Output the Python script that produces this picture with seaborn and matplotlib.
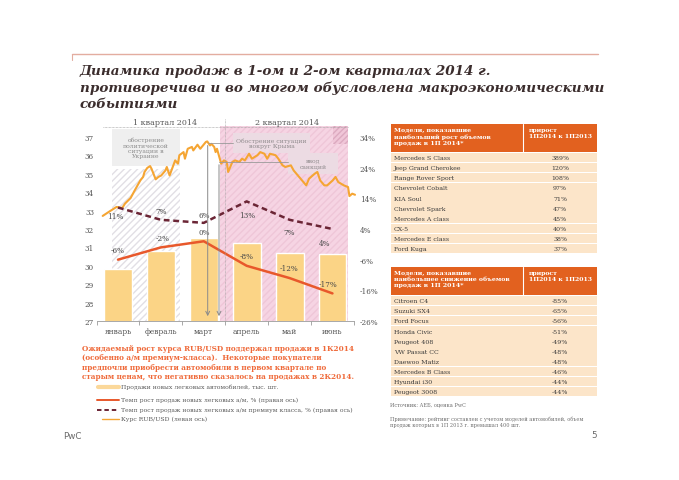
import numpy as np
import pandas as pd
import seaborn as sns
import matplotlib.pyplot as plt
from matplotlib.patches import Rectangle
from matplotlib.lines import Line2D

# ---- data ----
months = ['январь', 'февраль', 'март', 'апрель', 'май', 'июнь']
sales = [29.83, 30.82, 31.51, 31.22, 30.68, 30.64]          # bars (left scale)
total_growth = [-6, -2, 0, -8, -12, -17]                    # % right axis
premium_growth = [11, 7, 6, 13, 7, 4]                       # % right axis

rate_day = [0, 5, 10, 14, 16, 20, 23, 27, 29, 30, 32, 34, 35, 38, 40, 42, 45, 46,
            48, 52, 54, 55, 58, 59, 61, 64, 65, 68, 70, 74, 75, 77, 78, 80, 81, 82,
            84, 85, 87, 89, 90, 93, 95, 98, 100, 102, 105, 107, 111, 113, 116, 118,
            120, 124, 126, 129, 131, 135, 137, 140, 142, 146, 148, 152, 154, 156,
            159, 161, 165, 167, 169, 173, 176, 177, 179, 181]
rub_usd = [32.71, 32.96, 33.20, 33.14, 33.38, 33.68, 34.10, 34.64, 34.83, 35.10,
           35.32, 35.42, 35.28, 34.70, 34.83, 34.91, 35.18, 35.37, 34.91, 35.73,
           35.55, 36.01, 36.18, 35.82, 36.36, 36.46, 36.27, 36.58, 36.36, 36.73,
           36.76, 36.54, 36.63, 36.46, 36.18, 36.36, 35.82, 35.55, 35.73, 35.64,
           35.10, 35.64, 35.73, 35.64, 35.82, 35.73, 36.09, 35.82, 36.01, 36.18,
           36.09, 35.82, 36.09, 36.01, 35.82, 35.46, 35.37, 35.46, 35.18, 34.91,
           34.73, 34.37, 34.73, 35.00, 35.10, 34.64, 34.37, 34.37, 34.64, 34.83,
           34.55, 34.37, 34.28, 33.79, 33.92, 33.86]

left_ticks = [27, 28, 29, 30, 31, 32, 33, 34, 35, 36, 37]
right_ticks = [-26, -16, -6, 4, 14, 24, 34]

growth_models = ['Mercedes S Class', 'Jeep Grand Cherokee', 'Range Rover Sport',
                 'Chevrolet Cobalt', 'KIA Soul', 'Chevrolet Spark', 'Mercedes A class',
                 'CX-5', 'Mercedes E class', 'Ford Kuga']
growth_values = [389, 120, 108, 97, 71, 47, 45, 40, 38, 37]
decline_models = ['Citroen C4', 'Suzuki SX4', 'Ford Focus', 'Honda Civic', 'Peugeot 408',
                  'VW Passat CC', 'Daewoo Matiz', 'Mercedes B Class', 'Hyundai i30',
                  'Peugeot 3008']
decline_values = [-85, -65, -56, -51, -49, -48, -48, -46, -44, -44]

# label offsets (points) for the percentage annotations
total_offsets = [(0, 7), (1, 7), (0, 7), (0, 7), (0, 7), (-3, 7)]
premium_offsets = [(-2, -6), (0, 6.5), (0, 6), (0, -9.5), (0, -9), (-6, -10)]

BAR = '#fbd486'
RATE = '#f5a533'
RED = '#e8582b'
MAROON = '#6b2535'
GREY_TXT = '#555555'

sns.set_style('white')
plt.rcParams['font.family'] = ['DejaVu Serif']

W, H = 679, 481
fig = plt.figure(figsize=(6.79, 4.81), dpi=100)
fig.patch.set_facecolor('white')


def fx(x):
    return x / W


def fy(y):
    return 1 - y / H


def frect(target, x0, y0, x1, y1, **kw):
    r = Rectangle((fx(x0), fy(y1)), (x1 - x0) / W, (y1 - y0) / H,
                  transform=fig.transFigure, **kw)
    target.add_artist(r) if target is fig else target.add_patch(r)
    return r


def fline(xs, ys, **kw):
    fig.add_artist(Line2D([fx(x) for x in xs], [fy(y) for y in ys],
                          transform=fig.transFigure, **kw))


# ---- title ----
fline([72, 598], [55, 55], color='#e3ada0', lw=1)
fline([72, 72], [55, 61], color='#e3ada0', lw=0.8)
title_lines = ['Динамика продаж в 1-ом и 2-ом кварталах 2014 г.',
               'противоречива и во многом обусловлена макроэкономическими',
               'событиями']
for i, t in enumerate(title_lines):
    fig.text(fx(80), fy(71 + i * 16.8), t, fontsize=9.7, fontweight='bold',
             fontstyle='italic', color='#3b2d2d', va='center')

# ---- main chart ----
ax = fig.add_axes([fx(96.55), fy(322), (353.9 - 96.55) / W, (322 - 119.6) / H])
ax.patch.set_visible(False)

# background zones
frect(ax, 220, 127, 348, 322, facecolor='#f6d4e3', edgecolor='#efc6d8',
      hatch='/////', lw=0, zorder=0.1)
frect(ax, 333, 127, 348, 145, facecolor='#f0c6d8', edgecolor='#dcaac0',
      hatch='//////', lw=0, zorder=0.15)
frect(ax, 112, 170, 180, 322, facecolor='white', edgecolor='#e2dfe5',
      hatch='/////', lw=0, zorder=0.1)
frect(ax, 112, 130, 180, 167, facecolor='#efefef', edgecolor='none', zorder=0.1)
frect(ax, 233, 134, 310, 154, facecolor='#ecdbe3', edgecolor='none', zorder=0.2)
frect(ax, 288, 154, 338, 175, facecolor='#ecdbe3', edgecolor='none', zorder=0.2)

sns.barplot(x=months, y=sales, color=BAR, saturation=1, width=0.65, ax=ax, zorder=1)
ax.set_ylim(27, 38)
ax.set_xlim(-0.5, 5.5)
ax.set_xlabel('')
ax.set_ylabel('')
ax.set_yticks(left_ticks)
ax.set_yticklabels([str(v) for v in left_ticks])
ax.set_xticks(range(len(months)))
ax.set_xticklabels(months)
ax.set_xticks(np.arange(-0.5, len(months)), minor=True)
ax.tick_params(axis='y', length=0, pad=1.8, labelsize=5.2, labelcolor=GREY_TXT)
ax.tick_params(axis='x', which='major', length=0, pad=4, labelsize=5.4,
               labelcolor=GREY_TXT)
ax.tick_params(axis='x', which='minor', length=3, width=0.6, color='#9a9a9a',
               direction='out', bottom=True)
for s in ['left', 'right', 'top']:
    ax.spines[s].set_visible(False)
ax.spines['bottom'].set_color('#9a9a9a')
ax.spines['bottom'].set_linewidth(0.6)

# RUB/USD daily line on its own date scale
ax_rate = fig.add_axes(ax.get_position())
ax_rate.patch.set_visible(False)
sns.lineplot(x=rate_day, y=rub_usd, ax=ax_rate, color=RATE, lw=1.5, clip_on=False)
ax_rate.set_xlim(-4.4, 180.2)
ax_rate.set_ylim(27, 38)
ax_rate.axis('off')

# growth lines on right axis
ax_r = ax.twinx()
xs = np.arange(len(months))
sns.lineplot(x=xs, y=total_growth, ax=ax_r, color=RED, lw=1.8)
sns.lineplot(x=xs, y=premium_growth, ax=ax_r, color=MAROON, lw=1.8,
             linestyle=(0, (2.3, 1.5)))
ax_r.set_ylim(-26, 40)
ax_r.set_yticks(right_ticks)
ax_r.set_yticklabels([f'{v}%' for v in right_ticks])
ax_r.tick_params(axis='y', length=0, pad=4.3, labelsize=5.2, labelcolor=GREY_TXT)
ax_r.set_ylabel('')
for s in ax_r.spines.values():
    s.set_visible(False)

for x, v, off in zip(xs, total_growth, total_offsets):
    ax_r.annotate(f'{v}%', (x, v), xytext=off, textcoords='offset points',
                  ha='center', va='center', fontsize=5.2, color='#4a4a4a')
for x, v, off in zip(xs, premium_growth, premium_offsets):
    ax_r.annotate(f'{v}%', (x, v), xytext=off, textcoords='offset points',
                  ha='center', va='center', fontsize=5.2, color='#4a4a4a')

# quarter headers, separators, event notes
fig.text(fx(165), fy(123), '1 квартал 2014', fontsize=5.8, color='#5a5a5a',
         ha='center', va='center')
fig.text(fx(287), fy(123), '2 квартал 2014', fontsize=5.8, color='#5a5a5a',
         ha='center', va='center')
fline([103, 348], [127.5, 127.5], color='#9a9a9a', lw=0.5, linestyle=(0, (1, 1)))
fline([225, 225], [120, 322], color='#a0a0a0', lw=0.5, linestyle=(0, (1, 1)))

fig.text(fx(146), fy(148.5), 'обострение\nполитической\nситуации в\nУкраине',
         fontsize=4.4, color='#8a8a8a', ha='center', va='center', linespacing=1.05)
fig.text(fx(271.5), fy(144), 'Обострение ситуации\nвокруг Крыма', fontsize=4.4,
         color='#8f8a8c', ha='center', va='center', linespacing=1.1)
fig.text(fx(313), fy(164.5), 'ввод\nсанкций', fontsize=4.4, color='#8f8a8c',
         ha='center', va='center', linespacing=1.1)

fline([207.7, 233], [143.7, 143.7], color='#9a9a9a', lw=0.6)
fline([219, 288], [163, 163], color='#9a9a9a', lw=0.6)
for x0, y0 in [(207.7, 143.7), (219, 163)]:
    fig.add_artist(plt.Annotation('', xy=(fx(x0), fy(320)), xytext=(fx(x0), fy(y0)),
                                  xycoords='figure fraction',
                                  arrowprops=dict(arrowstyle='->', color='#8a8a8a',
                                                  lw=0.7, mutation_scale=7)))

# ---- commentary + legend ----
comment = ['Ожидаемый рост курса RUB/USD поддержал продажи в 1К2014',
           '(особенно а/м премиум-класса).  Некоторые покупатели',
           'предпочли приобрести автомобили в первом квартале по',
           'старым ценам, что негативно сказалось на продажах в 2К2014.']
for i, t in enumerate(comment):
    fig.text(fx(82), fy(349 + i * 9.3), t, fontsize=5.25, fontweight='bold',
             color='#ef6a3a', va='center')

legend_rows = [
    ('Продажи новых легковых автомобилей, тыс. шт.', dict(color='#fbd89a', lw=3), 98, 387.5),
    ('Темп рост продаж новых легковых а/м, % (правая ось)', dict(color=RED, lw=1.4), 97, 400.5),
    ('Темп рост продаж новых легковых а/м премиум класса, % (правая ось)',
     dict(color=MAROON, lw=1.4, linestyle=(0, (2.3, 1.5))), 97, 410.7),
    ('Курс RUB/USD (левая ось)', dict(color=RATE, lw=1), 102, 419.5),
]
for txt, style, x0, y in legend_rows:
    fline([x0, 119], [y, y], **style)
    fig.text(fx(121), fy(y), txt, fontsize=4.4, color='#5a5a5a', va='center')

fig.text(fx(63), fy(437), 'PwC', fontsize=6.3, color='#6a6a6a', va='center',
         family='DejaVu Sans')
fig.text(fx(594), fy(436), '5', fontsize=6.3, color='#6a6a6a', va='center',
         ha='center', family='DejaVu Sans')


# ---- tables ----
def draw_table(top, head_left, head_right, names, values):
    x0, xm, x1 = 391, 523, 597
    hh = 28
    frect(fig, x0, top, x1, top + hh, facecolor='#e2611f', edgecolor='none')
    fline([xm, xm], [top, top + hh], color='white', lw=0.8)
    fig.text(fx(x0 + 3), fy(top + 3), head_left, fontsize=4.5, fontweight='bold',
             color='white', va='top', linespacing=1.25)
    fig.text(fx(xm + 6), fy(top + 3), head_right, fontsize=4.4, fontweight='bold',
             color='white', va='top', linespacing=1.25)
    for i, (n, v) in enumerate(zip(names, values)):
        y0 = top + hh + 0.8 + i * 10.1
        frect(fig, x0, y0, xm - 0.4, y0 + 9.4, facecolor='#fce5c9', edgecolor='none')
        frect(fig, xm + 0.4, y0, x1, y0 + 9.4, facecolor='#fce5c9', edgecolor='none')
        fig.text(fx(x0 + 3), fy(y0 + 4.9), n, fontsize=4.5, color='#3a3a3a',
                 va='center')
        fig.text(fx((xm + x1) / 2), fy(y0 + 4.9), f'{v}%', fontsize=4.5,
                 color='#3a3a3a', va='center', ha='center')


draw_table(125, 'Модели, показавшие\nнаибольший рост объемов\nпродаж в 1П 2014*',
           'прирост\n1П2014 к 1П2013', growth_models, growth_values)
draw_table(268, 'Модели, показавшие\nнаибольшее снижение объемов\nпродаж в 1П 2014*',
           'прирост\n1П2014 к 1П2013', decline_models, decline_values)

fig.text(fx(390), fy(406), 'Источник: АЕБ, оценка PwC', fontsize=3.6,
         color='#707070', va='center')
fig.text(fx(390), fy(416.5), 'Примечание: рейтинг составлен с учетом моделей автомобилей, объем\n'
         'продаж которых в 1П 2013 г. превышал 400 шт.', fontsize=3.6,
         color='#707070', va='top', linespacing=1.15)

fig.savefig('out.png', dpi=100)
